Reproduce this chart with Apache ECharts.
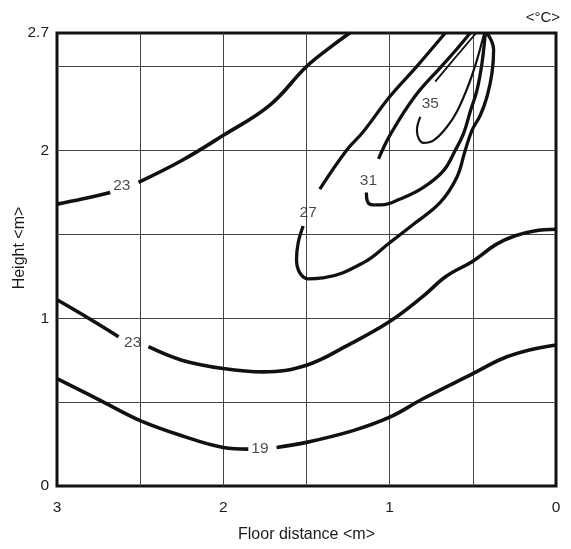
<!DOCTYPE html>
<html>
<head>
<meta charset="utf-8">
<script src="https://cdn.jsdelivr.net/npm/echarts@6/dist/echarts.min.js"></script>
<style>
html,body{margin:0;padding:0;background:#fff;}
#chart{width:571px;height:549px;}
</style>
</head>
<body>
<div id="chart"></div>
<script>
// tick labels
var xTicks = [3, 2, 1, 0];
var yTicks = [0, 1, 2, 2.7];

// isotherms, [floor distance, height], split where the label sits
var iso23UpA = [[3,1.68],[2.85,1.71],[2.68,1.75]];
var iso23UpB = [[2.51,1.81],[2.25,1.94],[2,2.09],[1.72,2.27],[1.5,2.5],[1.35,2.62],[1.24,2.7]];
var iso23LowA = [[3,1.11],[2.81,1.0],[2.63,0.89]];
var iso23LowB = [[2.45,0.83],[2.25,0.75],[2,0.70],[1.76,0.68],[1.5,0.72],[1.25,0.84],[1,0.98],[0.8,1.13],[0.66,1.25],[0.5,1.34],[0.36,1.44],[0.25,1.49],[0.13,1.52],[0,1.53]];
var iso19A = [[3,0.64],[2.72,0.5],[2.5,0.39],[2.25,0.3],[2,0.23],[1.85,0.22]];
var iso19B = [[1.68,0.23],[1.5,0.26],[1.22,0.33],[1,0.41],[0.8,0.52],[0.5,0.67],[0.32,0.76],[0.16,0.81],[0,0.84]];
var iso27A = [[0.666,2.7],[0.838,2.5],[1.0,2.32],[1.16,2.11],[1.26,2.0],[1.42,1.77]];
var iso27B = [[1.52,1.55],[1.55,1.45],[1.56,1.35],[1.54,1.27],[1.49,1.235],[1.40,1.24],[1.16,1.33],[1.0,1.45],[0.857,1.56],[0.696,1.69],[0.596,1.84],[0.546,2.0],[0.505,2.12],[0.455,2.21],[0.415,2.32],[0.385,2.46],[0.375,2.6],[0.415,2.7]];
var iso31A = [[0.516,2.7],[0.6,2.6],[0.69,2.5],[0.85,2.32],[0.993,2.1],[1.067,1.95]];
var iso31B = [[1.14,1.75],[1.135,1.70],[1.10,1.675],[1.05,1.675],[0.937,1.71],[0.797,1.78],[0.676,1.88],[0.606,2.0],[0.556,2.1],[0.516,2.23],[0.475,2.36],[0.445,2.52],[0.425,2.7]];
var iso35A = [[0.48,2.7],[0.6,2.56],[0.726,2.41]];
var iso35B = [[0.816,2.2],[0.836,2.12],[0.825,2.07],[0.797,2.045],[0.736,2.06],[0.656,2.14],[0.596,2.23],[0.526,2.39],[0.475,2.54],[0.436,2.68],[0.43,2.7]];

// contour labels [x, y, text]
var isoLabels = [[2.61,1.79,'23'],[2.545,0.855,'23'],[1.78,0.22,'19'],[1.49,1.63,'27'],[1.128,1.82,'31'],[0.756,2.28,'35']];

var font = "'Liberation Sans', Arial, Helvetica, sans-serif";
var ink = '#111';

function iso(data, w){
  return {
    type:'line',
    data:data,
    smooth:0.4,
    symbol:'none',
    silent:true,
    lineStyle:{color:ink,width:w}
  };
}

var chart = echarts.init(document.getElementById('chart'));
var series = [
  iso(iso23UpA,3.6), iso(iso23UpB,3.6),
  iso(iso23LowA,3.6), iso(iso23LowB,3.6),
  iso(iso19A,3.6), iso(iso19B,3.6),
  iso(iso27A,3.3), iso(iso27B,3.3),
  iso(iso31A,3.3), iso(iso31B,3.3),
  iso(iso35A,1.8), iso(iso35B,2.2)
];
series.push({
  type:'scatter',
  data:isoLabels,
  symbolSize:0,
  silent:true,
  label:{
    show:true,
    position:'inside',
    formatter:function(p){ return p.data[2]; },
    color:'#1a1a1a',
    fontSize:15.5,
    fontFamily:font
  }
});

var option = {
  animation:false,
  backgroundColor:'#fff',
  textStyle:{fontFamily:font},
  grid:{left:57,right:15,top:33,bottom:63,outerBoundsMode:'none',show:true,borderColor:ink,borderWidth:3,backgroundColor:'transparent'},
  xAxis:{
    type:'value',
    min:0,
    max:3,
    interval:0.5,
    inverse:true,
    name:'Floor distance <m>',
    nameLocation:'middle',
    nameGap:41,
    nameTextStyle:{fontSize:16,color:'#1a1a1a',fontFamily:font},
    axisLine:{show:false},
    axisTick:{show:false},
    axisLabel:{
      margin:14,
      fontSize:15.5,
      color:'#1a1a1a',
      fontFamily:font,
      formatter:function(v){ return xTicks.indexOf(v) >= 0 ? String(v) : ''; }
    },
    splitLine:{show:true,showMinLine:false,showMaxLine:false,lineStyle:{color:'#444',width:1}}
  },
  yAxis:{
    type:'value',
    min:0,
    max:2.7,
    interval:0.5,
    axisLine:{show:false},
    axisTick:{show:false},
    axisLabel:{
      margin:8,
      fontSize:15.5,
      color:'#1a1a1a',
      fontFamily:font,
      formatter:function(v){
        for (var i = 0; i < yTicks.length; i++) {
          if (Math.abs(yTicks[i] - v) < 1e-6) return String(yTicks[i]);
        }
        return '';
      }
    },
    splitLine:{show:true,showMinLine:false,showMaxLine:false,lineStyle:{color:'#444',width:1}}
  },
  graphic:[{
    type:'text',
    right:11,
    top:10,
    style:{text:'<°C>',fontSize:15,fill:'#1a1a1a',fontFamily:font}
  },{
    // y axis title, sits a bit above the grid's centre like the original
    type:'text',
    x:20,
    y:248,
    rotation:Math.PI/2,
    style:{text:'Height <m>',fontSize:16,fill:'#1a1a1a',fontFamily:font,align:'center',verticalAlign:'middle'}
  }],
  series:series
};
chart.setOption(option);
</script>
</body>
</html>
